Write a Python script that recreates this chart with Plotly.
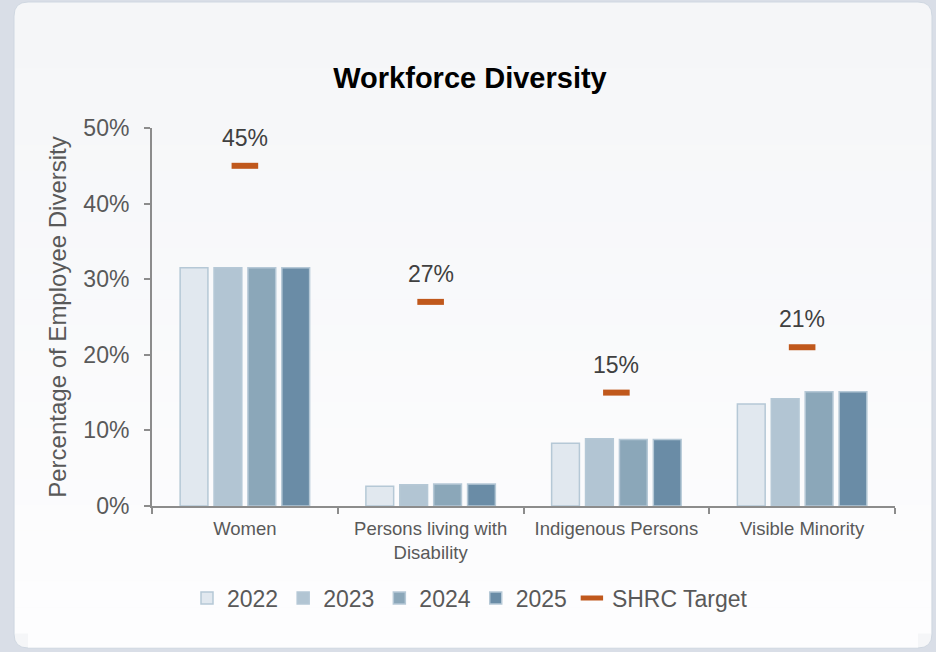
import plotly.graph_objects as go

categories = ["Women", "Persons living with<br>Disability", "Indigenous Persons", "Visible Minority"]
years = ["2022", "2023", "2024", "2025"]
values_2022 = [31.5, 2.6, 8.3, 13.5]
values_2023 = [31.5, 2.8, 8.9, 14.2]
values_2024 = [31.5, 2.9, 8.8, 15.1]
values_2025 = [31.5, 2.9, 8.8, 15.1]
shrc_target = [45, 27, 15, 21]
y_ticks = [0, 10, 20, 30, 40, 50]

series = [values_2022, values_2023, values_2024, values_2025]
bar_colors = ["#e1e8ef", "#b2c5d3", "#8ba7b9", "#6a8ca6"]
target_color = "#c0581c"
text_color = "#595959"
font_family = "Liberation Sans, Arial, sans-serif"

fig = go.Figure()

for year, vals, col in zip(years, series, bar_colors):
    fig.add_trace(go.Bar(
        x=categories, y=vals, name=year,
        marker=dict(color=col, line=dict(color="#b5c8d6", width=1.5)),
    ))

fig.add_trace(go.Scatter(
    x=categories, y=shrc_target, name="SHRC Target", mode="markers",
    marker=dict(symbol="line-ew", size=19,
                line=dict(color=target_color, width=6), color=target_color),
))

for cat, t in zip(categories, shrc_target):
    fig.add_annotation(
        x=cat, y=t, text=f"{t}%", showarrow=False, yshift=28,
        font=dict(size=23, color="#404040", family=font_family),
    )

# Page background card (pixel geometry converted to paper coordinates)
L, R, T, B = 152, 895, 128, 506
W, H = R - L, B - T


def px(x):
    return (x - L) / W


def py(y):
    return (B - y) / H


cx0, cx1, cy0, cy1, r = 14, 932, 2, 648, 14
card_path = (
    f"M {px(cx0 + r)} {py(cy0)} L {px(cx1 - r)} {py(cy0)} "
    f"Q {px(cx1)} {py(cy0)} {px(cx1)} {py(cy0 + r)} "
    f"L {px(cx1)} {py(cy1 - r)} Q {px(cx1)} {py(cy1)} {px(cx1 - r)} {py(cy1)} "
    f"L {px(cx0 + r)} {py(cy1)} Q {px(cx0)} {py(cy1)} {px(cx0)} {py(cy1 - r)} "
    f"L {px(cx0)} {py(cy0 + r)} Q {px(cx0)} {py(cy0)} {px(cx0 + r)} {py(cy0)} Z"
)
shapes = [dict(type="path", path=card_path, xref="paper", yref="paper",
               fillcolor="#f5f6f8", line=dict(color="#cfd7e1", width=1), layer="below")]

# soft vertical gradient inside the card
n = 24
top_rgb = (245, 246, 248)
bot_rgb = (253, 253, 254)
y_start, y_end = cy0 + r + 1, cy1 - r - 1
for i in range(n):
    f = i / (n - 1)
    c = tuple(round(a + (b - a) * f) for a, b in zip(top_rgb, bot_rgb))
    ya = y_start + (y_end - y_start) * i / n
    yb = y_start + (y_end - y_start) * (i + 1) / n
    shapes.append(dict(type="rect", xref="paper", yref="paper",
                       x0=px(cx0 + 1), x1=px(cx1 - 1), y0=py(yb + 0.5), y1=py(ya),
                       fillcolor=f"rgb{c}", line=dict(width=0), layer="below"))
# bottom band of the card
shapes.append(dict(type="rect", xref="paper", yref="paper",
                   x0=px(cx0 + r), x1=px(cx1 - r), y0=py(cy1 - 0.5), y1=py(y_end),
                   fillcolor="rgb(253,253,254)", line=dict(width=0), layer="below"))

fig.update_layout(
    width=936, height=652,
    margin=dict(l=L, r=936 - R, t=T, b=652 - B),
    paper_bgcolor="#d9dee7",
    plot_bgcolor="rgba(0,0,0,0)",
    shapes=shapes,
    font=dict(family=font_family, color=text_color),
    title=dict(text="<b>Workforce Diversity</b>", x=470 / 936, xanchor="center",
               y=1 - 78 / 652, yanchor="middle",
               font=dict(size=29, color="#000000", family=font_family)),
    barmode="group", bargap=0.27, bargroupgap=0.18,
    showlegend=True,
    legend=dict(orientation="h", x=px(470), xanchor="center", y=py(598), yanchor="middle",
                font=dict(size=23, color=text_color), bgcolor="rgba(0,0,0,0)",
                itemwidth=30, tracegroupgap=0),
    xaxis=dict(
        showline=True, linecolor="#8c8c8c", linewidth=2,
        ticks="outside", tickson="boundaries", ticklen=6, tickcolor="#8c8c8c", tickwidth=2,
        tickfont=dict(size=18.5, color=text_color), showgrid=False, ticklabelstandoff=5,
    ),
    yaxis=dict(
        range=[0, 50], tickmode="array", tickvals=y_ticks,
        ticktext=[f"{v}%" for v in y_ticks],
        showline=True, linecolor="#8c8c8c", linewidth=2,
        ticks="outside", ticklen=6, tickcolor="#8c8c8c", tickwidth=2,
        tickfont=dict(size=23, color=text_color), showgrid=False, zeroline=False,
        ticklabelstandoff=10,
        title=dict(text="Percentage of Employee Diversity", standoff=10,
                   font=dict(size=24, color=text_color)),
    ),
)

fig.write_html("out.html")
